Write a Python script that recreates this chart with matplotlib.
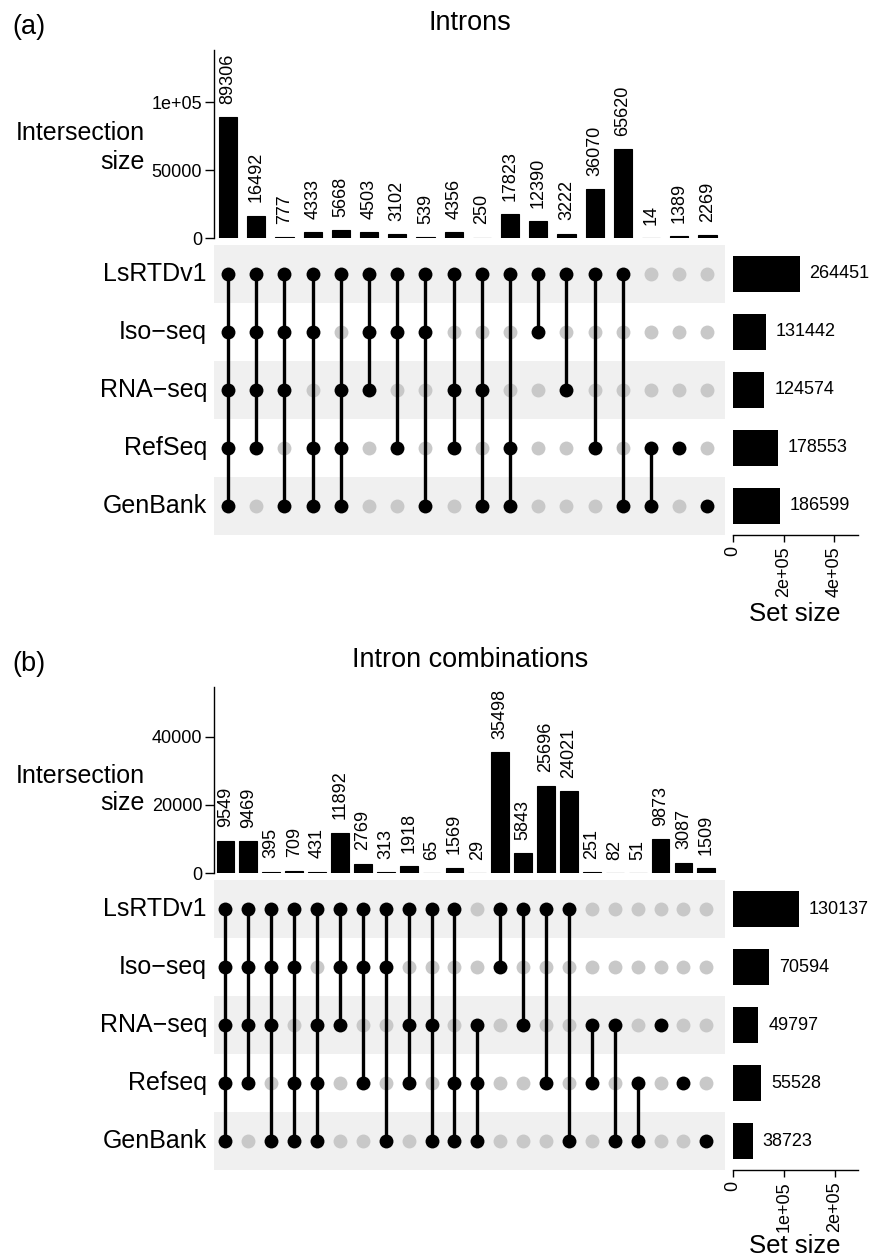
import matplotlib
matplotlib.use("Agg")
import matplotlib.pyplot as plt
import numpy as np

plt.rcParams['font.family'] = ['Liberation Sans', 'DejaVu Sans']

# ---------------- data ----------------
sets_a = ["LsRTDv1", "Iso\u2212seq", "RNA\u2212seq", "RefSeq", "GenBank"]
set_sizes_a = [264451, 131442, 124574, 178553, 186599]
# membership per intersection: order L, I, R, Rf(F), G
combos_a = [
    "LIRFG", "LIRF", "LIRG", "LIFG", "LRFG", "LIR", "LIF", "LIG", "LRF",
    "LRG", "LFG", "LI", "LR", "LF", "LG", "FG", "F", "G",
]
counts_a = [89306, 16492, 777, 4333, 5668, 4503, 3102, 539, 4356,
            250, 17823, 12390, 3222, 36070, 65620, 14, 1389, 2269]
yticks_a = [0, 50000, 100000]
yticklabels_a = ["0", "50000", "1e+05"]
sticks_a = [0, 200000, 400000]
sticklabels_a = ["0", "2e+05", "4e+05"]

sets_b = ["LsRTDv1", "Iso\u2212seq", "RNA\u2212seq", "Refseq", "GenBank"]
set_sizes_b = [130137, 70594, 49797, 55528, 38723]
combos_b = [
    "LIRFG", "LIRF", "LIRG", "LIFG", "LRFG", "LIR", "LIF", "LIG", "LRF",
    "LRG", "LFG", "RFG", "LI", "LR", "LF", "LG", "RF", "RG", "FG",
    "R", "F", "G",
]
counts_b = [9549, 9469, 395, 709, 431, 11892, 2769, 313, 1918, 65, 1569,
            29, 35498, 5843, 25696, 24021, 251, 82, 51, 9873, 3087, 1509]
yticks_b = [0, 20000, 40000]
yticklabels_b = ["0", "20000", "40000"]
sticks_b = [0, 100000, 200000]
sticklabels_b = ["0", "1e+05", "2e+05"]

codes = ["L", "I", "R", "F", "G"]

W, H = 870, 1258
fig = plt.figure(figsize=(W / 100, H / 100), dpi=100)


def ax_px(x0, y0, x1, y1):
    return fig.add_axes([x0 / W, 1 - y1 / H, (x1 - x0) / W, (y1 - y0) / H])


def ftext(x, y, s, **kw):
    fig.text(x / W, 1 - y / H, s, **kw)


STRIPE = "#F0F0F0"
GRAY = "#C8C8C8"
LBL = 13


def upset(y_top, y_zero, y_mat0, y_mat1, ymax, spacing, barw,
          sets, set_sizes, combos, counts, yticks, yticklabels,
          sxmax, sticks, sticklabels, title, tag, title_y, lab_y1, lab_y2,
          setsize_y):
    n = len(combos)
    xl, xr = 214, 725
    xmax = (xr - xl) / spacing - 0.5
    # bar chart
    axb = ax_px(xl, y_top, xr, y_zero)
    x = np.arange(n)
    axb.bar(x, counts, width=barw, color="black", edgecolor="black", linewidth=0.8)
    for xi, c in zip(x, counts):
        axb.annotate(str(c), (xi, c), xytext=(0, 9.5), textcoords="offset points",
                     rotation=90, ha="center", va="bottom", fontsize=LBL)
    axb.set_xlim(-0.5, xmax)
    axb.set_ylim(0, ymax)
    for s in ["top", "right", "bottom"]:
        axb.spines[s].set_visible(False)
    axb.spines["left"].set_linewidth(1.0)
    axb.set_xticks([])
    axb.set_yticks(yticks)
    axb.set_yticklabels(yticklabels, fontsize=LBL)
    axb.tick_params(axis="y", length=6.5, width=1.0, pad=2)
    axb.patch.set_alpha(0)

    # matrix
    axm = ax_px(xl, y_mat0, xr, y_mat1)
    nr = len(sets)
    for r in range(0, nr, 2):
        axm.axhspan(r - 0.5, r + 0.5, color=STRIPE, lw=0, zorder=0)
    for ci, combo in enumerate(combos):
        mem = [codes[r] in combo for r in range(nr)]
        rows_in = [r for r in range(nr) if mem[r]]
        rows_out = [r for r in range(nr) if not mem[r]]
        axm.scatter([ci] * len(rows_out), rows_out, s=100, color=GRAY, lw=0, zorder=2)
        if len(rows_in) > 1:
            axm.plot([ci, ci], [min(rows_in), max(rows_in)], color="black",
                     lw=2.4, zorder=3, solid_capstyle="butt")
        axm.scatter([ci] * len(rows_in), rows_in, s=100, color="black", lw=0, zorder=4)
    axm.set_xlim(-0.5, xmax)
    axm.set_ylim(nr - 0.5, -0.5)
    axm.axis("off")
    rowh = (y_mat1 - y_mat0) / nr
    for r, name in enumerate(sets):
        ftext(207, y_mat0 + rowh * (r + 0.5), name, ha="right", va="center",
              fontsize=18)

    # set sizes
    axs = ax_px(733, y_mat0, 858, y_mat1)
    axs.barh(np.arange(nr), set_sizes, height=0.62, color="black")
    for r, v in enumerate(set_sizes):
        axs.annotate(str(v), (v, r), xytext=(7, 0), textcoords="offset points",
                     ha="left", va="center", fontsize=LBL)
    axs.set_xlim(0, sxmax)
    axs.set_ylim(nr - 0.5, -0.5)
    for s in ["top", "right", "left"]:
        axs.spines[s].set_visible(False)
    axs.spines["bottom"].set_linewidth(1.0)
    axs.set_yticks([])
    axs.set_xticks(sticks)
    axs.set_xticklabels(sticklabels, fontsize=LBL, rotation=90)
    axs.tick_params(axis="x", length=5, width=1.0, pad=3)
    axs.patch.set_alpha(0)
    ftext(795, setsize_y, "Set size", ha="center", va="center", fontsize=18.5)

    ftext(145, lab_y1, "Intersection", ha="right", va="center", fontsize=18)
    ftext(145, lab_y2, "size", ha="right", va="center", fontsize=18)
    ftext(470, title_y, title, ha="center", va="center", fontsize=19.5)
    ftext(12, title_y + 4, tag, ha="left", va="center", fontsize=19.5)


upset(50, 238, 245, 535, 138700, 28.2, 0.64,
      sets_a, set_sizes_a, combos_a, counts_a, yticks_a, yticklabels_a,
      495000, sticks_a, sticklabels_a, "Introns", "(a)", 23, 133, 162, 614)

upset(687, 873, 880, 1170, 54700, 22.9, 0.78,
      sets_b, set_sizes_b, combos_b, counts_b, yticks_b, yticklabels_b,
      245000, sticks_b, sticklabels_b, "Intron combinations", "(b)", 660, 776, 803, 1246)

fig.savefig("out.png", dpi=100)
